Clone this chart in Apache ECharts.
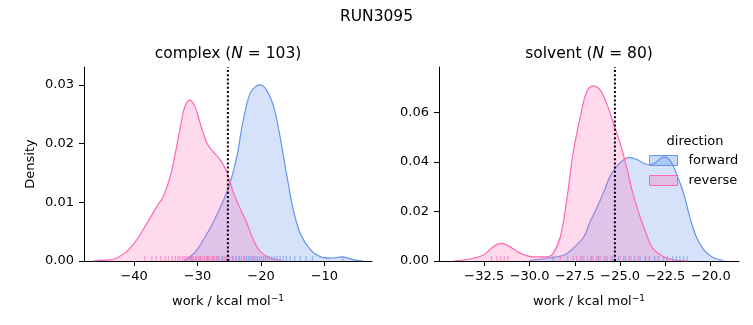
<!DOCTYPE html>
<html>
<head>
<meta charset="utf-8">
<script src="https://cdn.jsdelivr.net/npm/echarts@6/dist/echarts.min.js"></script>
<style>html,body{margin:0;padding:0;background:#fff}#c{width:753px;height:325px}</style>
</head>
<body>
<div id="c"></div>
<script>
// ---- data ----
const suptitle = 'RUN3095';
const complexTitle = 'complex ({i|N} = 103)';
const solventTitle = 'solvent ({i|N} = 80)';
const directions = ['forward', 'reverse'];

// complex KDE curves (work, density)
const complexFwdX = [-32.2,-31.2,-30.1,-29.1,-28.0,-27.0,-25.9,-24.9,-23.8,-22.8,-21.7,-20.6,-20.1,-19.1,-18.0,-17.0,-15.9,-14.9,-13.8,-12.2,-10.6,-9.1,-7.2,-5.4,-3.8];
const complexFwdY = [0,0.0007,0.0019,0.0036,0.0056,0.0078,0.0104,0.0132,0.0178,0.024,0.0286,0.0299,0.0300,0.0291,0.0263,0.0212,0.0144,0.0087,0.0047,0.0019,0.0007,0.0005,0.0007,0.0002,0];
const complexRevX = [-46.5,-45.4,-43.3,-41.2,-39.6,-38.0,-36.4,-35.4,-34.3,-33.3,-32.7,-32.0,-31.2,-30.4,-29.6,-28.5,-27.75,-26.4,-25.4,-24.3,-23.3,-22.2,-21.2,-20.1,-18.5,-16.5];
const complexRevY = [0,0.0001,0.0003,0.0016,0.0036,0.0064,0.0093,0.011,0.0144,0.0195,0.0229,0.0263,0.0274,0.0263,0.0235,0.020,0.0189,0.0172,0.0152,0.0115,0.009,0.0064,0.0036,0.0016,0.0005,0];
const complexMean = -25.22;
// complex rug values
const complexFwdRug = [-31.0,-29.6,-28.4,-27.5,-26.8,-26.1,-25.5,-24.9,-24.4,-23.9,-23.5,-23.1,-22.7,-22.3,-22.0,-21.7,-21.4,-21.1,-20.8,-20.5,-20.2,-19.9,-19.6,-19.3,-19.0,-18.7,-18.3,-17.9,-17.5,-17.0,-16.5,-16.0,-15.4,-14.7,-13.8,-12.9,-11.9,-7.1];
const complexRevRug = [-38.3,-37.2,-36.5,-35.8,-35.1,-34.6,-34.0,-33.5,-33.1,-32.8,-32.4,-32.1,-31.8,-31.5,-31.3,-31.0,-30.8,-30.6,-30.3,-30.1,-29.8,-29.5,-29.2,-28.9,-28.6,-28.3,-28.0,-27.7,-27.3,-27.0,-26.6,-26.2,-25.8,-25.4,-25.0,-24.5,-24.0,-23.4,-22.6,-21.3];

// solvent KDE curves
const solventFwdX = [-30.0,-29.06,-28.1,-27.6,-27.0,-26.7,-26.3,-25.9,-25.57,-25.2,-24.83,-24.5,-24.1,-23.7,-23.36,-22.99,-22.6,-22.26,-21.9,-21.5,-21.16,-20.8,-20.4,-19.9,-19.3];
const solventFwdY = [0.0002,0.0011,0.0024,0.0051,0.0098,0.0152,0.0213,0.028,0.0341,0.0381,0.0408,0.0419,0.0411,0.0395,0.0388,0.0401,0.0421,0.0408,0.0354,0.0274,0.0179,0.0098,0.0047,0.0015,0.0002];
const solventRevX = [-34.2,-33.3,-32.55,-32.0,-31.54,-31.1,-30.5,-29.8,-29.06,-28.7,-28.3,-27.95,-27.6,-27.2,-26.85,-26.5,-26.1,-25.75,-25.4,-25.0,-24.65,-24.3,-23.9,-23.5,-23.2,-22.6,-21.9,-21.2];
const solventRevY = [0,0.0008,0.0024,0.0058,0.0071,0.0058,0.0031,0.0017,0.0017,0.0031,0.0098,0.0246,0.0435,0.0583,0.0684,0.0708,0.0691,0.0637,0.0563,0.0475,0.0381,0.0274,0.0179,0.0098,0.0051,0.0017,0.0003,0];
const solventMean = -25.29;
const solventFwdRug = [-28.7,-27.1,-26.6,-26.2,-25.8,-25.4,-25.1,-24.8,-24.5,-24.2,-23.9,-23.6,-23.4,-23.1,-22.9,-22.6,-22.4,-22.1,-21.9,-21.7,-21.5,-21.3];
const solventRevRug = [-32.1,-31.8,-31.6,-31.4,-31.2,-28.3,-27.9,-27.6,-27.4,-27.2,-27.0,-26.8,-26.6,-26.5,-26.3,-26.1,-25.9,-25.7,-25.5,-25.3,-25.0,-24.7,-24.4,-24.0,-23.6];

// axis ticks
const complexXTicks = [-40,-30,-20,-10];
const complexYTicks = [0,0.01,0.02,0.03];
const solventXTicks = [-32.5,-30,-27.5,-25,-22.5,-20];
const solventYTicks = [0,0.02,0.04,0.06];
const xLabel = 'work / kcal mol{sup|\u22121}';
const yLabel = 'Density';

// ---- styles ----
const FONT = 'DejaVu Sans';
const BLUE = '#6495ED', PINK = '#FF69B4';
const BLUE_FILL = 'rgba(100,149,237,0.27)', PINK_FILL = 'rgba(255,105,180,0.25)';
const BLUE_RUG = 'rgba(100,149,237,0.75)', PINK_RUG = 'rgba(255,105,180,0.75)';
const zip = (xs, ys) => xs.map((v, i) => [v, ys[i]]);
const minus = s => String(s).replace('-', '\u2212');

function xAxis(gi, min, max, ticks, fmt) {
  return {
    type: 'value', gridIndex: gi, min, max,
    name: xLabel, nameLocation: 'middle', nameGap: 33,
    nameTextStyle: { fontFamily: FONT, fontSize: 13, color: '#000',
      rich: { sup: { fontFamily: FONT, fontSize: 9, color: '#000', verticalAlign: 'bottom', padding: [0, 0, 7, 0] } } },
    axisLine: { show: true, lineStyle: { color: '#000', width: 1 } },
    axisTick: { show: true, length: 5, lineStyle: { color: '#000' }, customValues: ticks },
    axisLabel: { customValues: ticks, margin: 9, fontFamily: FONT, fontSize: 13, color: '#000', formatter: fmt },
    splitLine: { show: false }
  };
}
function yAxis(gi, max, ticks, named) {
  return {
    type: 'value', gridIndex: gi, min: 0, max,
    name: named ? yLabel : '', nameLocation: 'middle', nameGap: 47,
    nameTextStyle: { fontFamily: FONT, fontSize: 13, color: '#000' },
    axisLine: { show: true, lineStyle: { color: '#000', width: 1 } },
    axisTick: { show: true, length: 5, lineStyle: { color: '#000' }, customValues: ticks },
    axisLabel: { customValues: ticks, margin: 10, fontFamily: FONT, fontSize: 13, color: '#000', formatter: v => v.toFixed(2) },
    splitLine: { show: false }
  };
}
function kde(name, gi, xs, ys, line, fill, z) {
  return { type: 'line', name, xAxisIndex: gi, yAxisIndex: gi, data: zip(xs, ys),
    smooth: 0.35, showSymbol: false, symbol: 'none', z,
    lineStyle: { color: line, width: 1.2 }, itemStyle: { color: line },
    areaStyle: { color: fill, opacity: 1 } };
}
function rug(name, gi, vals, color) {
  return { type: 'scatter', name, xAxisIndex: gi, yAxisIndex: gi, data: vals.map(v => [v, 0]),
    symbol: 'rect', symbolSize: [1.2, 5], symbolOffset: [0, -2.5], itemStyle: { color }, z: 5, silent: true };
}
function meanLine(gi, v, top) {
  return { type: 'line', name: 'mean' + gi, xAxisIndex: gi, yAxisIndex: gi, data: [[v, 0], [v, top]],
    showSymbol: false, symbol: 'none', z: 6, lineStyle: { color: '#000', width: 2, type: [2, 2.2] } };
}

const yMaxC = 0.03305, yMaxS = 0.0784;
const chart = echarts.init(document.getElementById('c'), null, { renderer: 'canvas' });
chart.setOption({
  animation: false,
  backgroundColor: '#fff',
  title: { text: suptitle, left: 'center', top: 4, textStyle: { fontFamily: FONT, fontSize: 15.5, fontWeight: 'normal', color: '#000' } },
  grid: [
    { left: 84, top: 67, width: 288, height: 194 },
    { left: 439, top: 67, width: 300, height: 194 }
  ],
  xAxis: [
    xAxis(0, -47.9, -2.5, complexXTicks, v => minus(v)),
    xAxis(1, -35.0, -18.44, solventXTicks, v => minus(v.toFixed(1)))
  ],
  yAxis: [yAxis(0, yMaxC, complexYTicks, true), yAxis(1, yMaxS, solventYTicks, false)],
  legend: {
    orient: 'vertical', left: 649, top: 154, padding: 0, itemGap: 7,
    itemWidth: 28, itemHeight: 10, icon: 'rect',
    textStyle: { fontFamily: FONT, fontSize: 13, color: '#000', padding: [0, 0, 0, 6] },
    data: [
      { name: 'forward', itemStyle: { color: 'rgba(100,149,237,0.35)', borderColor: BLUE, borderWidth: 1 } },
      { name: 'reverse', itemStyle: { color: 'rgba(255,105,180,0.3)', borderColor: PINK, borderWidth: 1 } }
    ]
  },
  graphic: [
    { type: 'text', x: 228, y: 54, style: { text: complexTitle, font: '15.5px "DejaVu Sans"', fill: '#000', textAlign: 'center', textVerticalAlign: 'middle',
      rich: { i: { fontFamily: FONT, fontSize: 15.5, fontStyle: 'italic', fill: '#000' } } } },
    { type: 'text', x: 589, y: 54, style: { text: solventTitle, font: '15.5px "DejaVu Sans"', fill: '#000', textAlign: 'center', textVerticalAlign: 'middle',
      rich: { i: { fontFamily: FONT, fontSize: 15.5, fontStyle: 'italic', fill: '#000' } } } },
    { type: 'text', x: 695, y: 142, style: { text: 'direction', font: '13px "DejaVu Sans"', fill: '#000', textAlign: 'center', textVerticalAlign: 'middle' } }
  ],
  series: [
    kde(directions[0], 0, complexFwdX, complexFwdY, BLUE, BLUE_FILL, 2),
    kde(directions[1], 0, complexRevX, complexRevY, PINK, PINK_FILL, 3),
    rug('rugCF', 0, complexFwdRug, BLUE_RUG),
    rug('rugCR', 0, complexRevRug, PINK_RUG),
    meanLine(0, complexMean, yMaxC),
    kde(directions[0], 1, solventFwdX, solventFwdY, BLUE, BLUE_FILL, 2),
    kde(directions[1], 1, solventRevX, solventRevY, PINK, PINK_FILL, 3),
    rug('rugSF', 1, solventFwdRug, BLUE_RUG),
    rug('rugSR', 1, solventRevRug, PINK_RUG),
    meanLine(1, solventMean, yMaxS)
  ]
});
</script>
</body>
</html>
